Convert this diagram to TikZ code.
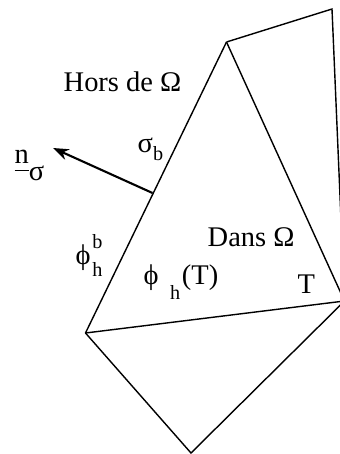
\documentclass[tikz,border=0pt]{standalone}
\usepackage{fontspec}
\setmainfont{Liberation Serif}
\usetikzlibrary{arrows.meta}
\newcommand{\idxfont}{\fontsize{11.5}{13}\selectfont}

\begin{document}
\begin{tikzpicture}[x=0.02cm, y=-0.02cm, line width=0.8pt,
  lbl/.style={inner sep=0pt, anchor=base west, font=\fontsize{16.2}{19}\selectfont}]
  \useasboundingbox (0,0) rectangle (340,454);
  \clip (0,0) rectangle (340,454);

  % sommets du maillage (en pixels, y vers le bas)
  \coordinate (A) at (226.5, 42);
  \coordinate (R) at (332, 9);
  \coordinate (V) at (344.5, 301);
  \coordinate (B) at (85.5, 333);
  \coordinate (D) at (191, 453);

  \draw (A) -- (R) -- (V);
  \draw (A) -- (V);
  \draw (A) -- (B);
  \draw (B) -- (V);
  \draw (B) -- (D) -- (V);

  % normale sortante sur le bord sigma_b
  \coordinate (N0) at (152.5, 193);
  \coordinate (N1) at (53, 148);
  \draw[line width=1.2pt, -{Stealth[length=9pt, width=6.5pt]}] (N0) -- (N1);

  \node[lbl] (hors) at (63, 91) {Hors de Ω};
  \node[lbl] (dans) at (207, 246) {Dans Ω};
  \node[lbl] (tri)  at (297, 293) {T};
  \node[lbl] (sigb) at (137, 152) {σ\raisebox{-0.3em}{\idxfont b}};
  \node[lbl] (nsig) at (14, 163)
    {$\underline{\raisebox{0pt}[\height][2.9pt]{\fontsize{16.2}{19}\selectfont n}}$\raisebox{-0.6em}{σ}};
  \node[lbl] (phib) at (75, 264)
    {ϕ\kern1pt\rlap{\raisebox{0.55em}{\idxfont b}}\raisebox{-0.45em}{\idxfont h}};
  \node[lbl] (phit) at (143, 284)
    {ϕ\hspace{0.4em}\raisebox{-0.55em}{\idxfont h}\kern1pt(T)};
\end{tikzpicture}
\end{document}
